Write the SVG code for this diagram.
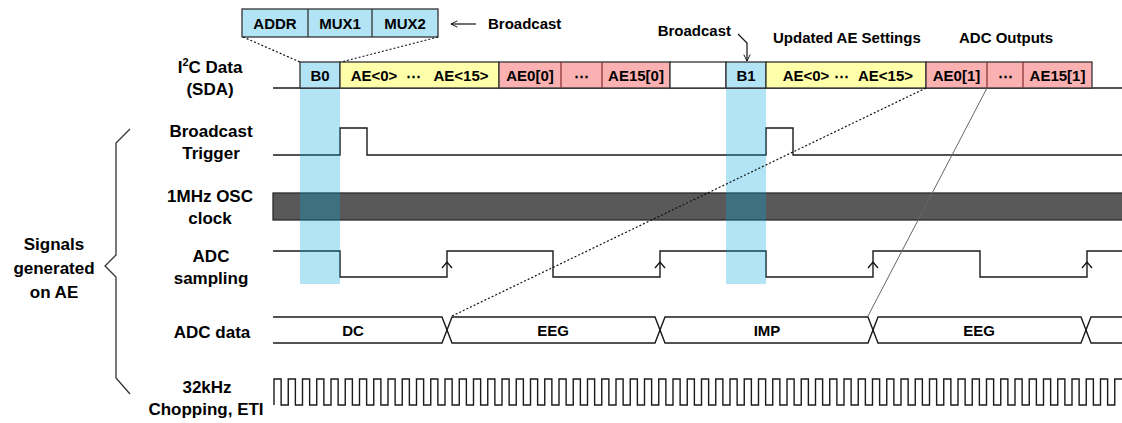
<svg xmlns="http://www.w3.org/2000/svg" width="1122" height="423" viewBox="0 0 1122 423">
<style>
text{font-family:"Liberation Sans",Arial,sans-serif;font-weight:bold;fill:#000}
.lbl{font-size:17px;text-anchor:middle}
.bx{font-size:15px;text-anchor:middle}
.sm{font-size:15px}
.wave{fill:none;stroke:#1a1a1a;stroke-width:1.4}
.box{stroke:#333;stroke-width:1.3}
.blue{fill:#b3e4f6}
.yel{fill:#ffffaa}
.pink{fill:#fbb1b1}
.pdiv{stroke:#8a3535;stroke-width:1.3}
.hl{fill:#00a6dd;fill-opacity:0.3}
.dot{fill:none;stroke:#111;stroke-width:1.2;stroke-dasharray:2 2}
</style>
<defs>
<marker id="open" viewBox="0 0 10 10" refX="9" refY="5" markerWidth="8" markerHeight="8" orient="auto" markerUnits="userSpaceOnUse">
<path d="M1,1 L9,5 L1,9" fill="none" stroke="#111" stroke-width="1.2"/>
</marker>
</defs>

<g id="labels">
<text class="lbl" x="210" y="73">I<tspan font-size="11" dy="-7">2</tspan><tspan dy="7">C Data</tspan></text>
<text class="lbl" x="210" y="95">(SDA)</text>
<text class="lbl" x="211" y="137">Broadcast</text>
<text class="lbl" x="211" y="159">Trigger</text>
<text class="lbl" x="210" y="202">1MHz OSC</text>
<text class="lbl" x="210" y="224">clock</text>
<text class="lbl" x="211" y="262">ADC</text>
<text class="lbl" x="211" y="284">sampling</text>
<text class="lbl" x="212" y="338">ADC data</text>
<text class="lbl" x="207" y="393">32kHz</text>
<text class="lbl" x="206" y="415">Chopping, ETI</text>
<text class="lbl" x="54" y="250">Signals</text>
<text class="lbl" x="54" y="274">generated</text>
<text class="lbl" x="54" y="298">on AE</text>
</g>

<g id="brace">
<polyline points="130,129 116,143 116,255 105,266 116,277 116,378 130,394" fill="none" stroke="#333" stroke-width="1.3"/>
</g>

<g id="osc-clock">
<rect x="273" y="193" width="851" height="27" fill="#595959" stroke="#2a2a2a" stroke-width="1.3"/>
</g>

<g id="broadcast-trigger">
<path class="wave" d="M273,155 H340 V128 H367 V155 H766 V128 H793 V155 H1122"/>
</g>

<g id="adc-sampling">
<path class="wave" d="M273,251 H340 V277 H447 V251 H553 V277 H660 V251 H766 V277 H873 V251 H980 V277 H1087 V251 H1122"/>
<path class="wave" stroke-width="1.1" d="M442,268 L447,262 L452,268 M655,268 L660,262 L665,268 M868,268 L873,262 L878,268 M1082,268 L1087,262 L1092,268"/>
</g>

<g id="adc-data">
<path class="wave" d="M273,317 H442 L452,343 H655 L665,317 H868 L878,343 H1081 L1091,317 H1122"/>
<path class="wave" d="M273,343 H442 L452,317 H655 L665,343 H868 L878,317 H1081 L1091,343 H1122"/>
<text class="bx" x="353" y="336">DC</text>
<text class="bx" x="553" y="336">EEG</text>
<text class="bx" x="767" y="336">IMP</text>
<text class="bx" x="979" y="336">EEG</text>
</g>

<g id="chopping">
<path class="wave" stroke-width="1.2" d="M274,405
v-26h7.125v26h7.125 v-26h7.125v26h7.125 v-26h7.125v26h7.125 v-26h7.125v26h7.125 v-26h7.125v26h7.125 v-26h7.125v26h7.125 v-26h7.125v26h7.125 v-26h7.125v26h7.125 v-26h7.125v26h7.125 v-26h7.125v26h7.125
v-26h7.125v26h7.125 v-26h7.125v26h7.125 v-26h7.125v26h7.125 v-26h7.125v26h7.125 v-26h7.125v26h7.125 v-26h7.125v26h7.125 v-26h7.125v26h7.125 v-26h7.125v26h7.125 v-26h7.125v26h7.125 v-26h7.125v26h7.125
v-26h7.125v26h7.125 v-26h7.125v26h7.125 v-26h7.125v26h7.125 v-26h7.125v26h7.125 v-26h7.125v26h7.125 v-26h7.125v26h7.125 v-26h7.125v26h7.125 v-26h7.125v26h7.125 v-26h7.125v26h7.125 v-26h7.125v26h7.125
v-26h7.125v26h7.125 v-26h7.125v26h7.125 v-26h7.125v26h7.125 v-26h7.125v26h7.125 v-26h7.125v26h7.125 v-26h7.125v26h7.125 v-26h7.125v26h7.125 v-26h7.125v26h7.125 v-26h7.125v26h7.125 v-26h7.125v26h7.125
v-26h7.125v26h7.125 v-26h7.125v26h7.125 v-26h7.125v26h7.125 v-26h7.125v26h7.125 v-26h7.125v26h7.125 v-26h7.125v26h7.125 v-26h7.125v26h7.125 v-26h7.125v26h7.125 v-26h7.125v26h7.125 v-26h7.125v26h7.125
v-26h7.125v26h7.125 v-26h7.125v26h7.125 v-26h7.125v26h7.125 v-26h7.125v26h7.125 v-26h7.125v26h7.125 v-26h7.125v26h7.125 v-26h7.125v26h7.125 v-26h7.125v26h7.125 v-26h7.125v26h7.125
v-26h7.25"/>
</g>

<g id="highlights">
<rect class="hl" x="300" y="88" width="40" height="196"/>
<rect class="hl" x="726" y="88" width="40" height="196"/>
</g>

<g id="i2c-data">
<line x1="273" y1="88" x2="1122" y2="88" stroke="#1a1a1a" stroke-width="1.4"/>
<rect class="box blue" x="300" y="62" width="40" height="26"/>
<rect class="box yel" x="340" y="62" width="159" height="26"/>
<rect class="box pink" x="499" y="62" width="171" height="26"/>
<line class="pdiv" x1="561" y1="62" x2="561" y2="88"/>
<line class="pdiv" x1="602" y1="62" x2="602" y2="88"/>
<rect class="box" fill="#fff" x="670" y="62" width="56" height="26"/>
<rect class="box blue" x="726" y="62" width="40" height="26"/>
<rect class="box yel" x="766" y="62" width="160" height="26"/>
<rect class="box pink" x="926" y="62" width="166" height="26"/>
<line class="pdiv" x1="987" y1="62" x2="987" y2="88"/>
<line class="pdiv" x1="1023" y1="62" x2="1023" y2="88"/>
<text class="bx" x="320" y="81">B0</text>
<text class="bx" x="374" y="81">AE&lt;0&gt;</text>
<text class="bx" x="413" y="81">⋯</text>
<text class="bx" x="461" y="81">AE&lt;15&gt;</text>
<text class="bx" x="530" y="81">AE0[0]</text>
<text class="bx" x="581.5" y="81">⋯</text>
<text class="bx" x="636" y="81">AE15[0]</text>
<text class="bx" x="746" y="81">B1</text>
<text class="bx" x="806" y="81">AE&lt;0&gt;</text>
<text class="bx" x="841" y="81">⋯</text>
<text class="bx" x="885.5" y="81">AE&lt;15&gt;</text>
<text class="bx" x="956.5" y="81">AE0[1]</text>
<text class="bx" x="1005" y="81">⋯</text>
<text class="bx" x="1057.5" y="81">AE15[1]</text>
</g>

<g id="broadcast-packet">
<rect class="box blue" x="242" y="9" width="196" height="28"/>
<line x1="308" y1="9" x2="308" y2="37" stroke="#333" stroke-width="1.3"/>
<line x1="372" y1="9" x2="372" y2="37" stroke="#333" stroke-width="1.3"/>
<text class="bx" x="275" y="29">ADDR</text>
<text class="bx" x="340" y="29">MUX1</text>
<text class="bx" x="405" y="29">MUX2</text>
</g>

<g id="annotations">
<text class="sm" x="488" y="29">Broadcast</text>
<text class="sm" x="731" y="36" text-anchor="end">Broadcast</text>
<text class="sm" x="773" y="43">Updated AE Settings</text>
<text class="sm" x="959" y="43">ADC Outputs</text>
</g>

<g id="connectors">
<line x1="476" y1="24" x2="451" y2="24" stroke="#111" stroke-width="1.2" marker-end="url(#open)"/>
<polyline points="738,34 747,43 747,61" fill="none" stroke="#111" stroke-width="1.2" marker-end="url(#open)"/>
<line class="dot" x1="243" y1="37" x2="300" y2="62"/>
<line class="dot" x1="438" y1="37" x2="341" y2="62"/>
<line class="dot" x1="926" y1="88" x2="452" y2="316"/>
<line x1="987" y1="88" x2="868" y2="316" stroke="#666" stroke-width="1"/>
</g>
</svg>
